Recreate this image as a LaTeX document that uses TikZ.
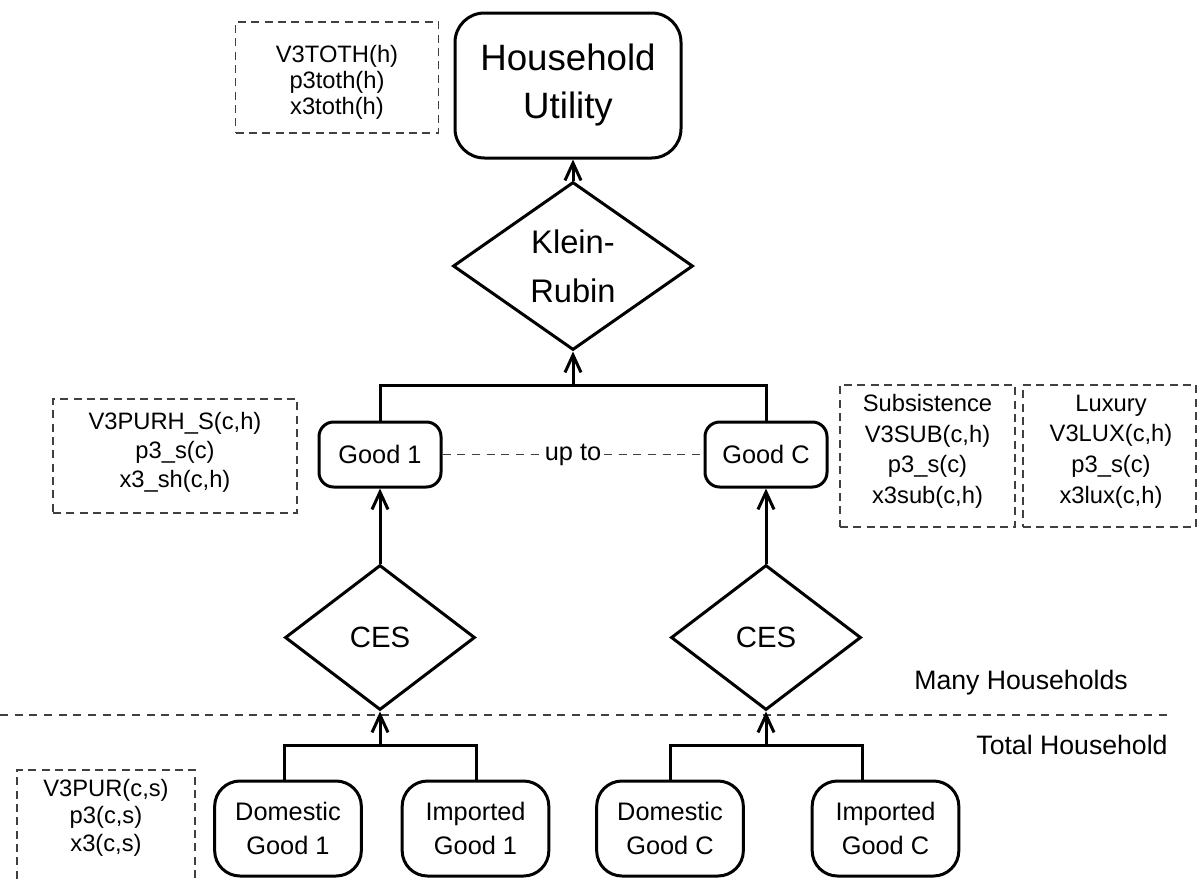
\documentclass[tikz,border=0pt]{standalone}
\usepackage{fontspec}
\setmainfont{Liberation Sans}
\usetikzlibrary{shapes.geometric,arrows.meta}

\begin{document}
\begin{tikzpicture}[x=0.75pt,y=-0.75pt,
  link/.style={line width=2.25pt},
  feed/.style={link,-{Straight Barb[length=13pt,width=12pt]}},
  outline/.style={draw,line width=2.25pt,align=center,inner sep=0pt},
  utilbox/.style={outline,rounded corners=22pt,minimum width=169.5pt,minimum height=108.75pt,
    font=\fontsize{27.5}{36}\selectfont},
  nest/.style={outline,diamond},
  goodbox/.style={outline,rounded corners=11pt,minimum width=91.5pt,minimum height=48.75pt,
    font=\fontsize{19}{23}\selectfont},
  srcbox/.style={outline,rounded corners=19pt,minimum width=110pt,minimum height=71.25pt,
    font=\fontsize{19}{25}\selectfont},
  varbox/.style={draw=black!75,line width=0.8pt,dash pattern=on 6pt off 4pt,inner sep=0pt},
  vartext/.style={align=center,inner sep=0pt},
  sepline/.style={draw=black!75,line width=0.8pt,dash pattern=on 6pt off 5pt},
  note/.style={font=\fontsize{20}{24}\selectfont,inner sep=0pt}]

\useasboundingbox (0,0) rectangle (1198,878);
\clip (0,0) rectangle (1198,878);

% upper nest: utility and Klein-Rubin aggregation
\node[utilbox] (hu) at (568,85.5) {Household\\Utility};
\node[nest,minimum width=180pt,minimum height=126pt,font=\fontsize{24.5}{37}\selectfont] (kr) at (573,266) {Klein-\\Rubin};

% composite goods
\node[goodbox] (g1) at (380,454.5) {Good 1};
\node[goodbox] (gc) at (766,454.5) {Good C};

% CES nests
\node[nest,minimum width=142.5pt,minimum height=108.75pt,font=\fontsize{22}{26}\selectfont] (ces1) at (380,637.5) {CES};
\node[nest,minimum width=142.5pt,minimum height=108.75pt,font=\fontsize{22}{26}\selectfont] (cesc) at (766,637.5) {CES};

% sources
\node[srcbox] (dom1) at (288,828.5) {Domestic\\Good 1};
\node[srcbox] (imp1) at (475.5,828.5) {Imported\\Good 1};
\node[srcbox] (domc) at (670,828.5) {Domestic\\Good C};
\node[srcbox] (impc) at (885.5,828.5) {Imported\\Good C};

% variable lists
\node[varbox,minimum width=152.25pt,minimum height=83.25pt] (totbox) at (337,77.5) {};
\node[vartext,font=\fontsize{17.8}{19.5}\selectfont] (tottxt) at (337,82.5) {V3TOTH(h)\\p3toth(h)\\x3toth(h)};

\node[varbox,minimum width=183pt,minimum height=85.5pt] (purhbox) at (175,456) {};
\node[vartext,font=\fontsize{17.8}{22}\selectfont] (purhtxt) at (175,452.5) {V3PURH\_S(c,h)\\p3\_s(c)\\x3\_sh(c,h)};

\node[varbox,minimum width=131.25pt,minimum height=106.5pt] (subbox) at (927.5,456) {};
\node[vartext,font=\fontsize{17.8}{23}\selectfont] (subtxt) at (927.5,451.5) {Subsistence\\V3SUB(c,h)\\p3\_s(c)\\x3sub(c,h)};

\node[varbox,minimum width=129.75pt,minimum height=106.5pt] (luxbox) at (1109.5,456) {};
\node[vartext,font=\fontsize{17.8}{23}\selectfont] (luxtxt) at (1111,451.5) {Luxury\\V3LUX(c,h)\\p3\_s(c)\\x3lux(c,h)};

\node[varbox,minimum width=133.5pt,minimum height=97.5pt] (purbox) at (106,835) {};
\node[vartext,font=\fontsize{17.8}{20.6}\selectfont] (purtxt) at (106,817.5) {V3PUR(c,s)\\p3(c,s)\\x3(c,s)};

% level labels and separator
\node[note] (many) at (1021,683) {Many Households};
\node[note] (total) at (1072,745) {Total Household};
\coordinate (sepL) at (0,715);
\coordinate (sepR) at (1167,715);
\draw[sepline] (sepL) -- (sepR);

% range of goods
\draw[sepline] (g1.east) -- node[fill=white,inner sep=1pt,font=\fontsize{19}{23}\selectfont] (upto) {up to} (gc.west);

% connectors
\draw[feed] (kr.north) -- (kr.north |- hu.south);
\coordinate (jtop) at (573,385);
\draw[link] (g1.north) |- (jtop) -| (gc.north);
\draw[feed] (jtop) -- (kr.south);

\draw[feed] (ces1.north) -- (g1.south);
\draw[feed] (cesc.north) -- (gc.south);

\coordinate (j1) at (380,745);
\coordinate (dom1in) at (284,781);
\coordinate (imp1in) at (476,781);
\draw[link] (dom1in) |- (j1) -| (imp1in);
\draw[feed] (j1) -- (ces1.south);

\coordinate (jc) at (766,745);
\coordinate (domcin) at (670,781);
\coordinate (impcin) at (862,781);
\draw[link] (domcin) |- (jc) -| (impcin);
\draw[feed] (jc) -- (cesc.south);
\end{tikzpicture}
\end{document}
